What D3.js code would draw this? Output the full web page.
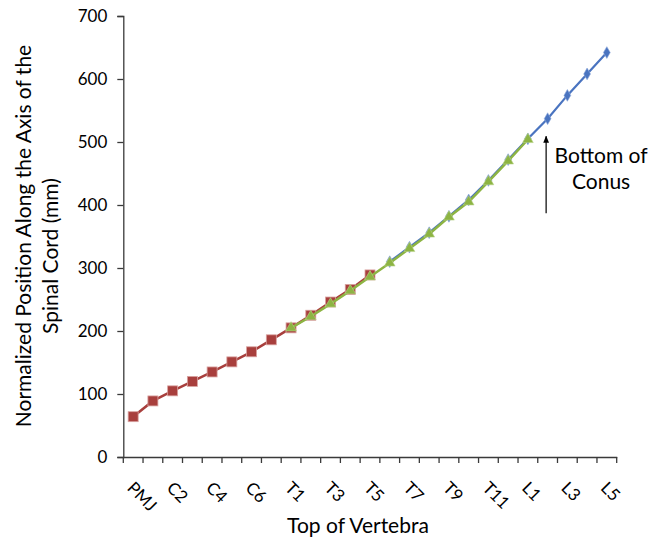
<!DOCTYPE html>
<html>
<head>
<meta charset="utf-8">
<script src="https://cdn.jsdelivr.net/npm/d3@7"></script>
<style>
  html, body { margin: 0; padding: 0; background: #fff; }
  svg { display: block; }
  text { font-family: Lato, "Open Sans", sans-serif; fill: #000; }
</style>
</head>
<body>
<svg id="chart" width="649" height="542"></svg>
<script>
const categories = ["PMJ","C1","C2","C3","C4","C5","C6","C7",
  "T1","T2","T3","T4","T5","T6","T7","T8","T9","T10","T11","T12",
  "L1","L2","L3","L4","L5"];
const tickLabels = ["PMJ","C2","C4","C6","T1","T3","T5","T7","T9","T11","L1","L3","L5"];
const yTicks = [0,100,200,300,400,500,600,700];

// red squares: PMJ .. T5
const redCats = categories.slice(0, 13);
const redValues = [64, 89, 105, 120, 135, 151, 167, 186, 205, 225, 246, 266, 289];
// blue diamonds: T6 .. L5
const blueCats = categories.slice(13, 25);
const blueValues = [310, 333, 356, 382, 408, 439, 472, 505, 537, 574, 608, 642];
// green triangles: T1 .. L1
const greenCats = categories.slice(8, 21);
const greenValues = [205, 223, 243, 264, 286, 308, 331, 354, 381, 405, 437, 470, 504];

(function () {
const svg = d3.select("#chart");
const mLeft = 123.3, mRight = 616.7, mTop = 16, mBottom = 457;

const x = d3.scaleBand().domain(categories).range([mLeft, mRight]);
const y = d3.scaleLinear().domain([0, 700]).range([mBottom, mTop]);
const cx = c => x(c) + x.bandwidth() / 2;

const axisColor = "#3a3a3a";

// Y axis
const gy = svg.append("g").attr("transform", `translate(${mLeft},0)`)
  .call(d3.axisLeft(y).tickValues(yTicks).tickSize(6).tickPadding(10).tickFormat(d3.format("d")));
gy.select(".domain").attr("stroke", axisColor).attr("stroke-width", 1.3);
gy.selectAll(".tick line").attr("stroke", axisColor).attr("stroke-width", 1.3);
gy.selectAll(".tick text").style("font-family", "Lato, sans-serif").style("font-size", "17px").attr("fill", "#000");

// X axis (labels)
const gx = svg.append("g").attr("transform", `translate(0,${mBottom})`)
  .call(d3.axisBottom(x).tickValues(tickLabels).tickSize(0));
gx.select(".domain").attr("stroke", axisColor).attr("stroke-width", 1.3);
gx.selectAll(".tick text")
  .style("font-family", "Lato, sans-serif").style("font-size", "17px").attr("fill", "#000")
  .attr("x", 0).attr("y", 0).attr("dy", 0)
  .attr("text-anchor", "start")
  .attr("transform", "translate(-7,32) rotate(45)");
// boundary ticks
const boundaries = categories.map(c => x(c)).concat([x.range()[1]]);
gx.append("g").selectAll("line").data(boundaries).join("line")
  .attr("x1", d => d).attr("x2", d => d).attr("y1", 0).attr("y2", 6)
  .attr("stroke", axisColor).attr("stroke-width", 1.3);

// Axis titles
svg.append("text").attr("x", (mLeft + mRight) / 2 - 12).attr("y", 533)
  .attr("text-anchor", "middle").style("font-size", "21px").text("Top of Vertebra");
const yt = svg.append("g");
yt.append("text").attr("transform", `translate(31,236) rotate(-90)`)
  .attr("text-anchor", "middle").style("font-size", "21px")
  .text("Normalized Position Along the Axis of the");
yt.append("text").attr("transform", `translate(58,256) rotate(-90)`)
  .attr("text-anchor", "middle").style("font-size", "21px")
  .text("Spinal Cord (mm)");

const line = d3.line().x(d => cx(d[0])).y(d => y(d[1]));

// Red series
const red = d3.zip(redCats, redValues);
svg.append("path").datum(red).attr("d", line).attr("fill", "none")
  .attr("stroke", "#A83F3D").attr("stroke-width", 2.5);
svg.append("g").selectAll("rect").data(red).join("rect")
  .attr("x", d => cx(d[0]) - 5).attr("y", d => y(d[1]) - 5)
  .attr("width", 10).attr("height", 10)
  .attr("fill", "#A83F3D").attr("stroke", "#D9A3A1").attr("stroke-width", 0.8);

// Blue series
const blue = d3.zip(blueCats, blueValues);
svg.append("path").datum(blue).attr("d", line).attr("fill", "none")
  .attr("stroke", "#4A74C0").attr("stroke-width", 2.2);
svg.append("g").selectAll("path").data(blue).join("path")
  .attr("d", d3.symbol(d3.symbolDiamond, 40))
  .attr("transform", d => `translate(${cx(d[0])},${y(d[1])})`)
  .attr("fill", "#4A74C0").attr("stroke", "#8FA9DA").attr("stroke-width", 0.6);

// Green series
const green = d3.zip(greenCats, greenValues);
svg.append("path").datum(green).attr("d", line).attr("fill", "none")
  .attr("stroke", "#8DB443").attr("stroke-width", 2.5);
svg.append("g").selectAll("path").data(green).join("path")
  .attr("d", d3.symbol(d3.symbolTriangle, 50))
  .attr("transform", d => `translate(${cx(d[0])},${y(d[1])})`)
  .attr("fill", "#8DB443").attr("stroke", "#B9D48A").attr("stroke-width", 0.6);

// Annotation arrow
svg.append("defs").append("marker").attr("id", "arrow")
  .attr("viewBox", "0 0 10 10").attr("refX", 9).attr("refY", 5)
  .attr("markerWidth", 6).attr("markerHeight", 6).attr("orient", "auto")
  .append("path").attr("d", "M0,1 L10,5 L0,9 Z").attr("fill", "#000");
const ax = cx("L2") - 1.5;
svg.append("line").attr("x1", ax).attr("x2", ax)
  .attr("y1", y(387)).attr("y2", y(509))
  .attr("stroke", "#000").attr("stroke-width", 1.2).attr("marker-end", "url(#arrow)");
const tx = cx("L4") + 14;
svg.append("text").attr("x", tx).attr("y", 163).attr("text-anchor", "middle")
  .style("font-size", "21px").text("Bottom of");
svg.append("text").attr("x", tx).attr("y", 189).attr("text-anchor", "middle")
  .style("font-size", "21px").text("Conus");
})();
</script>
</body>
</html>
